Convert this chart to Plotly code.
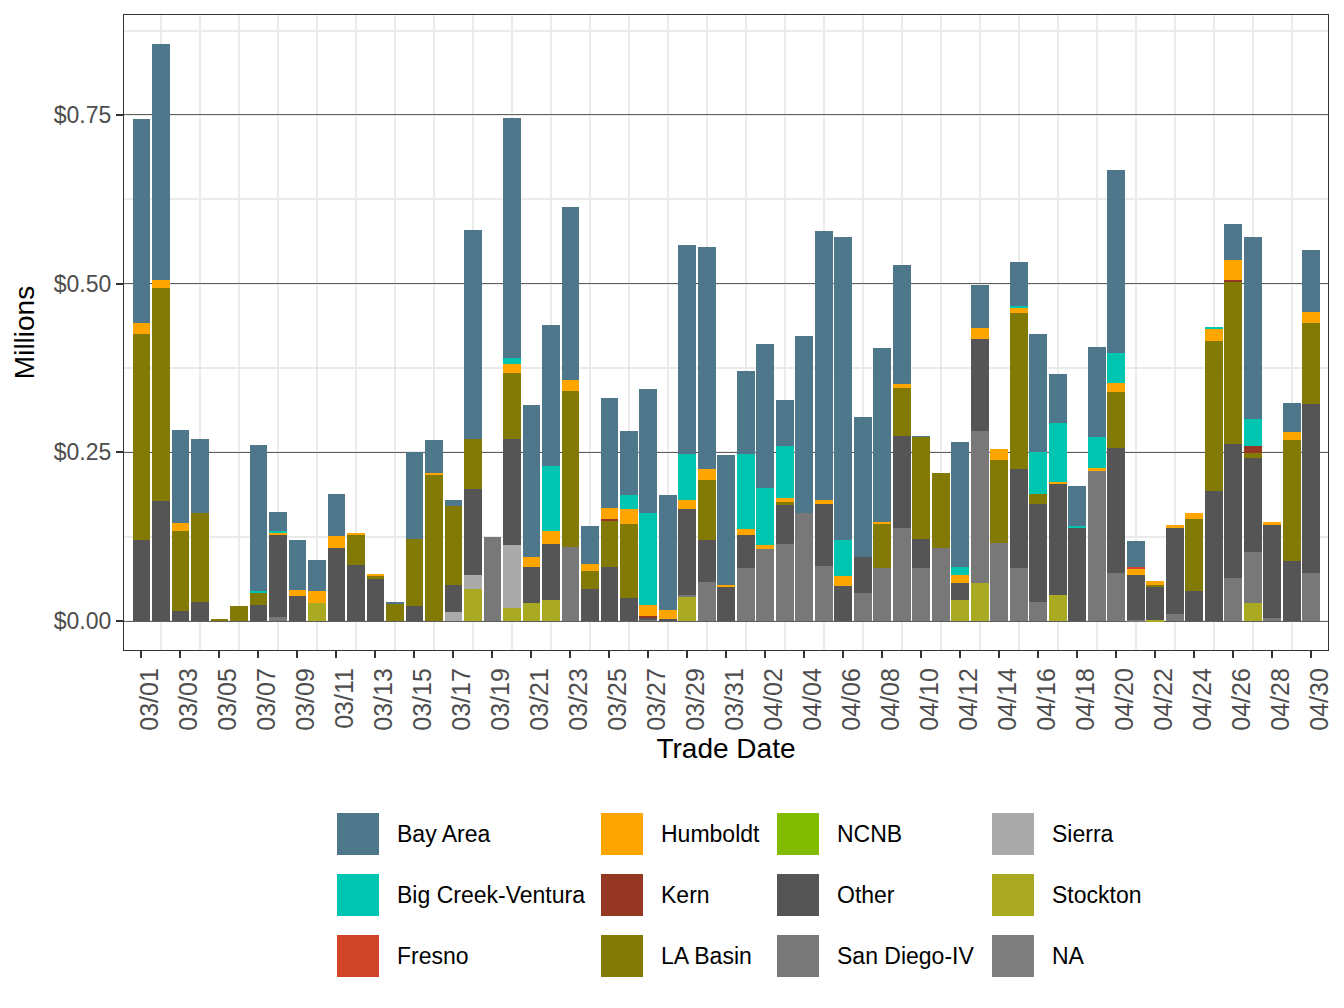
import pandas as pd
import plotly.graph_objects as go

# trade dates, 03/01 .. 04/30
trade_dates = pd.date_range("2024-03-01", "2024-04-30", freq="D")

# daily value by region (millions $)
bay_area = [.303, .349, .138, .110, 0, 0, .217, .027, .074, .046,
            .063, 0, 0, .0025, .129, .0485, .0085, .310, 0, .3565,
            .225, .2085, .256, .057, .163, .094, .1825, .1706, .310, .329,
            .192, .123, .214, .068, .262, .399, .4495, .207, .257, .177,
            .001, 0, .185, .0625, 0, .065, .176, .0726, .059, .133,
            .272, .0385, 0, 0, 0, 0, .0544, .2696, 0, .043,
            .0915]
big_creek = [0, 0, 0, 0, 0, 0, .002, .003, 0, 0,
             0, 0, 0, 0, 0, 0, 0, 0, 0, .009,
             0, .0955, 0, 0, 0, .021, .137, 0, .068, 0,
             0, .110, .084, .077, 0, 0, .053, 0, 0, 0,
             0, 0, .011, 0, 0, .0014, .062, .0875, .0015, .046,
             .043, 0, 0, 0, 0, .0014, 0, .040, 0, 0,
             0]
fresno = [0, 0, 0, 0, 0, 0, 0, 0, 0, 0,
          0, 0, 0, 0, 0, 0, 0, 0, 0, 0,
          0, 0, 0, 0, 0, 0, 0, 0, 0, 0,
          0, 0, 0, 0, 0, 0, 0, 0, 0, 0,
          0, 0, 0, 0, 0, 0, 0, 0, 0, 0,
          0, .0015, 0, 0, 0, 0, 0, 0, 0, 0,
          0]
humboldt = [.015, .013, .012, 0, 0, 0, 0, .004, .009, .017,
            .018, .002, .0015, 0, 0, .003, 0, 0, 0, .0135,
            .015, .020, .016, .010, .016, .022, .0163, .013, .013, .015,
            .003, .009, .006, .006, 0, .005, .015, 0, .003, .006,
            0, 0, .013, .0175, .0164, .009, 0, .0015, 0, .0045,
            .0135, .0105, .0057, .0043, .009, .019, .0296, 0, .0046, .012,
            .0165]
kern = [0, 0, 0, 0, 0, 0, 0, 0, 0, 0,
        0, 0, 0, 0, 0, 0, 0, 0, 0, 0,
        0, 0, 0, 0, .003, 0, .0024, 0, 0, 0,
        0, 0, 0, 0, 0, 0, 0, 0, 0, 0,
        0, 0, 0, 0, 0, 0, 0, 0, 0, 0,
        0, 0, 0, 0, 0, 0, .0015, .010, 0, 0,
        0]
la_basin = [.306, .315, .118, .132, .003, .022, .018, 0, 0, 0,
            0, .045, .0045, .026, .099, .2165, .1175, .0745, 0, .0975,
            0, 0, .231, .027, .068, .110, 0, 0, 0, .090,
            0, 0, 0, .004, 0, 0, 0, 0, .065, .071,
            .151, .112, 0, 0, .123, .230, .015, 0, 0, 0,
            .084, 0, .0013, 0, .1066, .222, .2415, .008, 0, .179,
            .120]
ncnb = [0, 0, 0, 0, 0, 0, 0, 0, 0, 0,
        0, 0, 0, 0, 0, 0, 0, 0, 0, 0,
        0, 0, 0, 0, 0, 0, 0, 0, 0, 0,
        0, 0, 0, 0, 0, 0, 0, 0, 0, 0,
        0, 0, 0, 0, 0, 0, 0, 0, 0, 0,
        0, 0, 0, 0, 0, 0, 0, 0, 0, 0,
        0]
other = [.120, .178, .015, .028, 0, 0, .024, .121, .037, 0,
         .108, .083, .0625, 0, .0225, 0, .040, .127, 0, .1565,
         .053, .083, 0, .047, .080, .034, .002, .003, .1275, .062,
         .051, .049, 0, .058, 0, .092, .052, .053, 0, .136,
         .043, 0, .025, .1365, 0, .148, .145, .166, .139, 0,
         .184, .0665, .0505, .127, .0444, .1925, .198, .139, .1376, .0888,
         .250]
san_diego = [0, 0, 0, 0, 0, 0, 0, .006, 0, 0,
             0, 0, 0, 0, 0, 0, 0, 0, .1245, 0,
             0, 0, .110, 0, 0, 0, .003, 0, .0015, .0577,
             0, .079, .107, .114, .160, .082, 0, .042, .079, .138,
             .079, .108, 0, .225, .115, .078, .028, 0, 0, .223,
             .072, .0015, 0, .0104, 0, 0, .064, .075, .0044, 0,
             .0711]
sierra = [0, 0, 0, 0, 0, 0, 0, 0, 0, 0,
          0, 0, 0, 0, 0, 0, .0135, .021, 0, .093,
          0, 0, 0, 0, 0, 0, 0, 0, 0, 0,
          0, 0, 0, 0, 0, 0, 0, 0, 0, 0,
          0, 0, 0, 0, 0, 0, 0, 0, 0, 0,
          0, 0, 0, 0, 0, 0, 0, 0, 0, 0,
          0]
stockton = [0, 0, 0, 0, 0, 0, 0, 0, 0, .027,
            0, 0, 0, 0, 0, 0, 0, .0475, 0, .020,
            .027, .031, 0, 0, 0, 0, 0, 0, .037, 0,
            0, 0, 0, 0, 0, 0, 0, 0, 0, 0,
            0, 0, .031, .056, 0, 0, 0, .038, 0, 0,
            0, 0, .0015, 0, 0, 0, 0, .027, 0, 0,
            0]
na_region = [0, 0, 0, 0, 0, 0, 0, 0, 0, 0,
             0, 0, 0, 0, 0, 0, 0, 0, 0, 0,
             0, 0, 0, 0, 0, 0, 0, 0, 0, 0,
             0, 0, 0, 0, 0, 0, 0, 0, 0, 0,
             0, 0, 0, 0, 0, 0, 0, 0, 0, 0,
             0, 0, 0, 0, 0, 0, 0, 0, 0, 0,
             0]

series = {
    "Bay Area": bay_area, "Big Creek-Ventura": big_creek, "Fresno": fresno,
    "Humboldt": humboldt, "Kern": kern, "LA Basin": la_basin,
    "NCNB": ncnb, "Other": other, "San Diego-IV": san_diego,
    "Sierra": sierra, "Stockton": stockton, "NA": na_region,
}
colors = {
    "Bay Area": "#4F778C", "Big Creek-Ventura": "#00C6B1", "Fresno": "#D04527",
    "Humboldt": "#FFA500", "Kern": "#963724", "LA Basin": "#837905",
    "NCNB": "#82BC00", "Other": "#555555", "San Diego-IV": "#787878",
    "Sierra": "#AAAAAA", "Stockton": "#AAAA22", "NA": "#7F7F7F",
}
# legend order (column-wise, 3 rows x 4 cols) and stacking order (bottom first)
legend_order = list(series.keys())
stack_order = legend_order[::-1]

FONT = "Liberation Sans, Arial, sans-serif"

fig = go.Figure()
for name in stack_order:
    fig.add_trace(go.Bar(
        x=trade_dates, y=series[name], name=name,
        marker=dict(color=colors[name], line=dict(width=0)),
        showlegend=False,
    ))

x_start = trade_dates[0] - pd.Timedelta(hours=0.887 * 24)
x_end = trade_dates[0] + pd.Timedelta(hours=60.86 * 24)

fig.update_xaxes(
    range=[x_start, x_end],
    tickformat="%m/%d", tick0=trade_dates[0], dtick=2 * 86400000,
    tickangle=-90, ticklabelshift=9,
    tickfont=dict(size=25, color="#4D4D4D", family=FONT),
    ticks="outside", ticklen=7, tickwidth=1.5, tickcolor="#333333",
    showgrid=False,
    minor=dict(tick0=trade_dates[1], dtick=2 * 86400000, showgrid=True,
               gridcolor="#EBEBEB", gridwidth=1.5, ticks=""),
    showline=True, linecolor="#333333", linewidth=1.3, mirror=True,
    title=dict(text="Trade Date", font=dict(size=28, color="black", family=FONT), standoff=8),
)
fig.update_yaxes(
    range=[-0.0428, 0.898],
    tickvals=[0, 0.25, 0.5, 0.75], tickformat="$.2f",
    tickfont=dict(size=23, color="#4D4D4D", family=FONT),
    ticks="outside", ticklen=7, tickwidth=1.5, tickcolor="#333333",
    showgrid=True, gridcolor="#5E5E5E", gridwidth=1, zeroline=False,
    minor=dict(dtick=0.125, showgrid=True, gridcolor="#EBEBEB", gridwidth=1.5, ticks=""),
    showline=True, linecolor="#333333", linewidth=1.3, mirror=True,
    title=dict(text="Millions", font=dict(size=28, color="black", family=FONT), standoff=10),
)

# page puts the figure 8px in from the corner, so size/margins allow for that
W, H = 1328, 992
L, R, T, B = 116, 8, 7, 350
OFF = 8
PW, PH = W - L - R, H - T - B
def px_x(px):
    return (px - OFF - L) / PW
def px_y(py):
    return (OFF + T + PH - py) / PH

# manual legend: big square keys like ggplot
col_left = [337, 601, 777, 992]
row_top = [813, 874, 935]
key = 42
shapes, annots = [], []
for i, name in enumerate(legend_order):
    c, r = divmod(i, 3)
    x0, y0 = col_left[c], row_top[r]
    shapes.append(dict(type="rect", xref="paper", yref="paper",
                       x0=px_x(x0), x1=px_x(x0 + key), y0=px_y(y0 + key), y1=px_y(y0),
                       fillcolor=colors[name], line=dict(width=0), layer="above"))
    annots.append(dict(xref="paper", yref="paper", x=px_x(x0 + 58), y=px_y(y0 + key / 2),
                       text=name, showarrow=False, xanchor="left", yanchor="middle",
                       font=dict(size=23, color="black", family=FONT)))

fig.update_layout(
    width=W, height=H,
    barmode="stack", bargap=0.1,
    plot_bgcolor="white", paper_bgcolor="white",
    margin=dict(l=L, r=R, t=T, b=B, autoexpand=False),
    font=dict(family=FONT),
    shapes=shapes, annotations=annots,
    showlegend=False,
)

fig.write_html("out.html")
